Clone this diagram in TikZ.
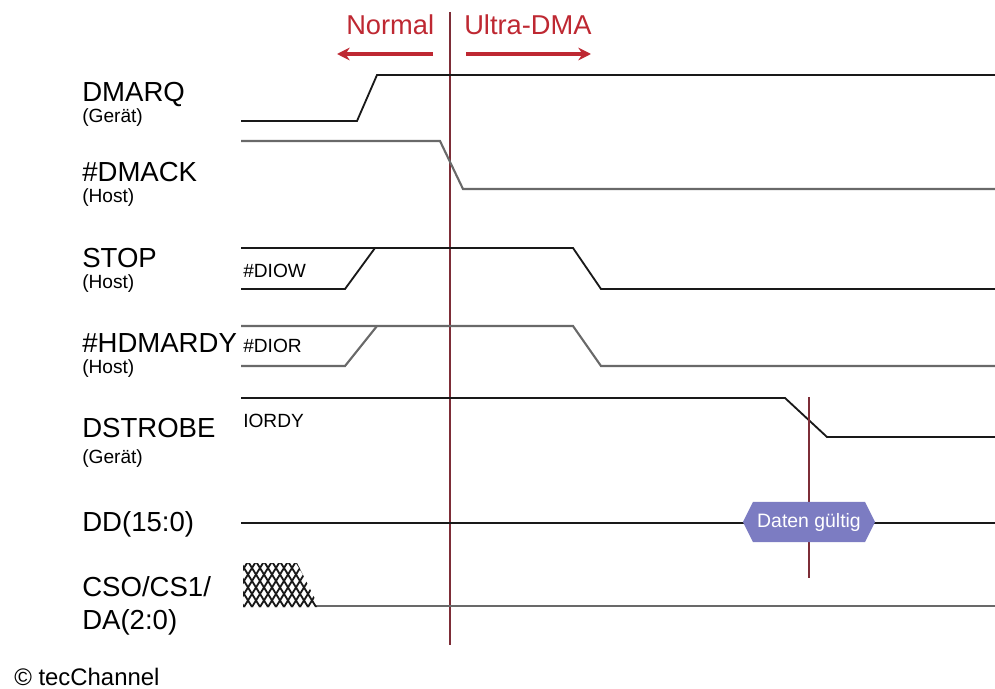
\documentclass[tikz,border=0pt]{standalone}
\usepackage{fontspec}
\setmainfont{Liberation Sans}
\usetikzlibrary{shapes.symbols, arrows.meta}
\definecolor{modered}{RGB}{190,40,50}
\definecolor{cursor}{RGB}{125,45,55}
\definecolor{valid}{RGB}{124,124,194}
\definecolor{wire}{RGB}{25,25,25}
\definecolor{wiregray}{RGB}{105,105,105}

\begin{document}
\begin{tikzpicture}[x=0.025cm, y=-0.025cm, >={Stealth[length=9pt, width=9pt]},
    sig/.style={line width=1.3pt, wire},
    siggray/.style={line width=1.5pt, wiregray},
    signame/.style={anchor=base west, inner sep=0pt, font=\fontsize{19.6}{22}\selectfont},
    sigsrc/.style={anchor=base west, inner sep=0pt, font=\fontsize{13.6}{16}\selectfont}]
    \useasboundingbox (0,0) rectangle (995,689);

    % Umschaltung Normal / Ultra-DMA
    \draw[cursor, line width=1.2pt] (450,12) -- (450,645);
    \node[anchor=base west, inner sep=0pt, modered, font=\fontsize{19.4}{22}\selectfont] (normal) at (346,35) {Normal};
    \node[anchor=base west, inner sep=0pt, modered, font=\fontsize{19.4}{22}\selectfont] (udma) at (464,35) {Ultra-DMA};
    \draw[->, modered, line width=2.2pt] (433,54) -- (337,54);
    \draw[->, modered, line width=2.2pt] (466,54) -- (591,54);

    % Signalnamen
    \node[signame] (dmarq) at (82,102) {DMARQ};
    \node[sigsrc] (dmarqsrc) at (82,123) {(Gerät)};
    \node[signame] (dmack) at (82,182) {\#DMACK};
    \node[sigsrc] (dmacksrc) at (82,203) {(Host)};
    \node[signame] (stop) at (82,268) {STOP};
    \node[sigsrc] (stopsrc) at (82,289) {(Host)};
    \node[signame] (hdmardy) at (82,352) {\#HDMARDY};
    \node[sigsrc] (hdmardysrc) at (82,373) {(Host)};
    \node[signame] (dstrobe) at (82,437) {DSTROBE};
    \node[sigsrc] (dstrobesrc) at (82,463) {(Gerät)};
    \node[signame] (dd) at (82,531) {DD(15:0)};
    \node[signame] (cs) at (82,596) {CSO/CS1/};
    \node[signame] (da) at (82,629) {DA(2:0)};

    % alte Namen
    \node[sigsrc] (diow) at (243,278) {\#DIOW};
    \node[sigsrc] (dior) at (243,352) {\#DIOR};
    \node[sigsrc] (iordy) at (243,427) {IORDY};

    % Verlaeufe
    \draw[sig] (241,121) -- (357,121) -- (377,75) -- (995,75);
    \draw[siggray] (241,141) -- (440,141) -- (463,189) -- (995,189);
    \draw[sig] (241,248) -- (573,248) -- (601,289) -- (995,289);
    \draw[sig] (241,289) -- (345,289) -- (375,248);
    \draw[siggray] (241,326) -- (573,326) -- (601,366) -- (995,366);
    \draw[siggray] (241,366) -- (345,366) -- (377,326);
    \draw[sig] (241,398) -- (785,398) -- (827,437) -- (995,437);
    \draw[sig] (241,523) -- (995,523);
    \draw[siggray] (316,606) -- (995,606);

    % Adressen ungueltig
    \begin{scope}
        \clip (243,563) -- (297,563) -- (319,607) -- (243,607) -- cycle;
        \foreach \x in {180,188,...,340} {
            \draw[wire, line width=1.3pt] (\x,555) -- ++(37,60);
            \draw[wire, line width=1.3pt] (\x,555) -- ++(-37,60);
        }
    \end{scope}

    % Strobe-Zeitpunkt
    \draw[cursor, line width=1.1pt] (809,397) -- (809,578);
    \node[signal, signal to=east and west, signal pointer angle=127, fill=valid,
        minimum width=3.3cm, minimum height=1cm, inner sep=0pt, text=white,
        font=\fontsize{13.8}{16}\selectfont] (valid) at (809,522) {Daten gültig};

    \node[anchor=base west, inner sep=0pt, font=\fontsize{17}{20}\selectfont] (copy) at (14,685) {© tecChannel};
\end{tikzpicture}
\end{document}
